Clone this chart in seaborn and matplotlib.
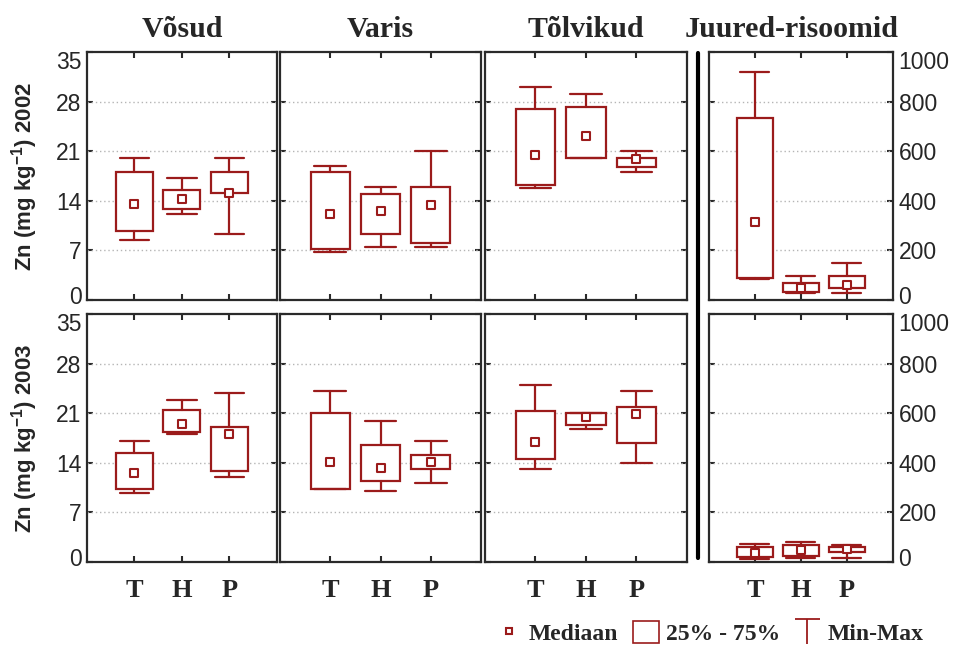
import matplotlib
matplotlib.use("Agg")
import matplotlib.pyplot as plt
import matplotlib.transforms as mtransforms
from matplotlib.lines import Line2D
from matplotlib.patches import Patch
from matplotlib.path import Path
import pandas as pd
import seaborn as sns

groups = ["T", "H", "P"]
tissues = ["Võsud", "Varis", "Tõlvikud", "Juured-risoomid"]
years = ["2002", "2003"]

# five-number summaries per group (T, H, P): min, q1, median, q3, max
vosud_2002 = [[8.4, 9.8, 13.5, 18.0, 20.0], [12.1, 12.9, 14.2, 15.5, 17.2], [9.3, 15.1, 15.1, 18.0, 20.0]]
varis_2002 = [[6.8, 7.2, 12.2, 18.0, 18.9], [7.5, 9.3, 12.5, 14.9, 16.0], [7.5, 8.1, 13.4, 16.0, 21.0]]
tolvikud_2002 = [[15.8, 16.3, 20.4, 27.0, 30.1], [20.0, 20.0, 23.1, 27.3, 29.1], [18.0, 18.8, 19.9, 20.0, 21.0]]
juured_2002 = [[86, 90, 316, 733, 918], [30, 34, 50, 70, 97], [30, 48, 60, 95, 150]]

vosud_2003 = [[9.8, 10.3, 12.5, 15.4, 17.1], [18.0, 18.4, 19.5, 21.4, 22.8], [12.0, 12.9, 18.1, 19.0, 23.9]]
varis_2003 = [[10.3, 10.3, 14.1, 21.0, 24.2], [10.0, 11.4, 13.2, 16.5, 19.9], [11.2, 13.1, 14.1, 15.1, 17.1]]
tolvikud_2003 = [[13.1, 14.5, 16.9, 21.3, 25.0], [18.8, 19.3, 20.5, 21.0, 21.0], [14.0, 16.8, 20.9, 21.9, 24.2]]
juured_2003 = [[12, 22, 38, 60, 74], [14, 23, 47, 67, 81], [14, 40, 51, 60, 67]]

zn_ticks = [0, 7, 14, 21, 28, 35]
root_ticks = [0, 200, 400, 600, 800, 1000]

panels = [
    [vosud_2002, varis_2002, tolvikud_2002, juured_2002],
    [vosud_2003, varis_2003, tolvikud_2003, juured_2003],
]

sns.set_theme(style="white")
plt.rcParams["font.family"] = ["Liberation Sans", "DejaVu Sans"]
plt.rcParams["mathtext.default"] = "regular"

RED = "#9b1b1b"
SPINE = "#2a2a2a"
SERIF = ["Liberation Serif", "DejaVu Serif"]
SANS = ["Liberation Sans", "DejaVu Sans"]

fig = plt.figure(figsize=(9.56, 6.49), dpi=100)

row_bottoms = [0.5378, 0.1341]
row_height = 0.382
col_lefts = [0.0910, 0.2929, 0.5073, 0.7416]
col_widths = [0.1987, 0.2103, 0.2113, 0.1925]

# nudge the end labels of each y axis towards the middle of the frame
nudge_up = mtransforms.ScaledTranslation(0, 0.05, fig.dpi_scale_trans)
nudge_down = mtransforms.ScaledTranslation(0, -0.08, fig.dpi_scale_trans)

for r, year in enumerate(years):
    for c, tissue in enumerate(tissues):
        ax = fig.add_axes([col_lefts[c], row_bottoms[r], col_widths[c], row_height])
        data = panels[r][c]
        stats = [
            dict(whislo=s[0], q1=s[1], med=s[2], q3=s[3], whishi=s[4], fliers=[], label=g)
            for g, s in zip(groups, data)
        ]
        ax.bxp(
            stats, positions=[0, 1, 2], widths=0.78, capwidths=0.63,
            patch_artist=True, showfliers=False,
            boxprops=dict(facecolor="white", edgecolor=RED, linewidth=1.6),
            whiskerprops=dict(color=RED, linewidth=1.6),
            capprops=dict(color=RED, linewidth=1.6),
            medianprops=dict(linewidth=0),
            zorder=3,
        )
        med_df = pd.DataFrame({"x": [0, 1, 2], "median": [s[2] for s in data]})
        sns.scatterplot(
            data=med_df, x="x", y="median", ax=ax, marker="s", s=34,
            color="white", edgecolor=RED, linewidth=1.5, zorder=4, legend=False,
        )

        ax.set_xlim(-1, 3)
        if c < 3:
            ax.set_ylim(0, 35)
            ax.set_yticks(zn_ticks)
        else:
            ax.set_ylim(0, 1000)
            ax.set_yticks(root_ticks)
        for yv in ax.get_yticks()[1:-1]:
            ax.axhline(yv, color="#b5b5b5", linestyle=(0, (1, 2)), linewidth=1.0, zorder=1)

        ax.set_xticks([0, 1, 2])
        ax.set_xlabel("")
        ax.set_ylabel("")
        ax.tick_params(axis="both", direction="in", length=4, width=1.5, color=SPINE,
                       top=True, bottom=True, left=True, right=True)
        ax.tick_params(axis="y", labelsize=16.5, labelcolor="#262626", pad=4)
        if r == 1:
            ax.set_xticklabels(groups, fontfamily=SERIF, fontweight="bold", fontsize=19)
            ax.tick_params(axis="x", pad=12)
        else:
            ax.set_xticklabels([])
        if c == 0:
            ax.tick_params(axis="y", labelleft=True, labelright=False)
        elif c == 3:
            ax.tick_params(axis="y", labelleft=False, labelright=True)
        else:
            ax.tick_params(axis="y", labelleft=False, labelright=False)

        yticks = ax.yaxis.get_major_ticks()
        for lab in (yticks[0].label1, yticks[0].label2):
            lab.set_transform(lab.get_transform() + nudge_up)
        for lab in (yticks[-1].label1, yticks[-1].label2):
            lab.set_transform(lab.get_transform() + nudge_down)

        for sp in ax.spines.values():
            sp.set_visible(True)
            sp.set_color(SPINE)
            sp.set_linewidth(1.6)

        if r == 0:
            cx = col_lefts[c] + col_widths[c] / 2 - (0.01 if c == 3 else 0)
            fig.text(cx, 0.955, tissue, ha="center", va="center",
                     fontfamily=SERIF, fontweight="bold", fontsize=21.5)

    fig.text(0.026, row_bottoms[r] + row_height / 2, r"Zn (mg kg$^{-1}$) " + year,
             rotation=90, ha="center", va="center", fontfamily=SANS,
             fontweight="bold", fontsize=16)

# heavy divider between shoot parts and roots
fig.add_artist(Line2D([698 / 956, 698 / 956], [1 - 53 / 649, 1 - 558 / 649],
                      transform=fig.transFigure, color="black", linewidth=3))

cap_marker = Path([(-1, 1), (1, 1), (0, 1), (0, -1)],
                  [Path.MOVETO, Path.LINETO, Path.MOVETO, Path.LINETO])
handles = [
    Line2D([], [], linestyle="", marker="s", markersize=5, markerfacecolor="white",
           markeredgecolor=RED, markeredgewidth=1.5),
    Patch(facecolor="white", edgecolor=RED, linewidth=1.2),
    Line2D([], [], linestyle="", marker=cap_marker, markersize=18,
           markeredgecolor=RED, markeredgewidth=1.3),
]
fig.legend(handles, ["Mediaan", "25% - 75%", "Min-Max"], loc="center right",
           bbox_to_anchor=(0.988, 0.024), ncol=3, frameon=False,
           prop=dict(family=SERIF, weight="bold", size=17),
           handlelength=1.1, handleheight=1.05, handletextpad=0.3, columnspacing=0.6)

fig.savefig("out.png", dpi=100)
